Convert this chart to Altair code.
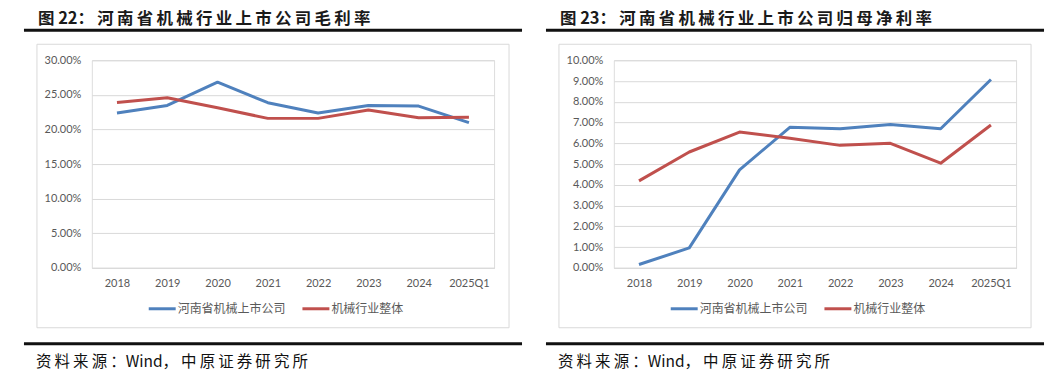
import altair as alt
import pandas as pd

categories = ["2018", "2019", "2020", "2021", "2022", "2023", "2024", "2025Q1"]
series_names = ["河南省机械上市公司", "机械行业整体"]

gross_henan = [22.37, 23.47, 26.83, 23.86, 22.37, 23.47, 23.38, 20.98]
gross_industry = [23.90, 24.58, 23.14, 21.60, 21.60, 22.80, 21.70, 21.75]
net_henan = [0.16, 0.96, 4.72, 6.77, 6.70, 6.91, 6.70, 9.07]
net_industry = [4.19, 5.58, 6.54, 6.24, 5.90, 6.00, 5.04, 6.88]

title_left = "图 22：河南省机械行业上市公司毛利率"
title_right = "图 23：河南省机械行业上市公司归母净利率"
source_text = "资料来源：Wind，中原证券研究所"

left_ticks = [0, 0.05, 0.10, 0.15, 0.20, 0.25, 0.30]
right_ticks = [0, 0.01, 0.02, 0.03, 0.04, 0.05, 0.06, 0.07, 0.08, 0.09, 0.10]

colors = ["#4f81bd", "#c0504d"]

W, H = 403, 208
CJK = "Noto Sans CJK SC"
NUM = "Lato"
GRAY = "#595959"


def is_cjk(ch):
    return ord(ch) > 0x2E80


def spaced(s):
    out = []
    for i, ch in enumerate(s):
        out.append(ch)
        if i < len(s) - 1 and is_cjk(ch) and is_cjk(s[i + 1]):
            out.append("\u2009")
    return "".join(out)


def one():
    return pd.DataFrame({"a": [0]})


def make_df(a, b):
    rows = []
    for name, vals in zip(series_names, [a, b]):
        for c, v in zip(categories, vals):
            rows.append({"cat": c, "series": name, "value": v / 100.0})
    return pd.DataFrame(rows)


def panel(df, ymax, ticks, title, anchor=False):
    lines = alt.Chart(df).mark_line(strokeWidth=3, strokeJoin="round").encode(
        x=alt.X("cat:N", sort=categories,
                scale=alt.Scale(type="point", padding=0.5),
                axis=alt.Axis(title=None, labelAngle=0, ticks=False, domain=True,
                              domainColor="#d9d9d9", labelFont=NUM, labelFontSize=11,
                              labelColor=GRAY, labelPadding=10, grid=False)),
        y=alt.Y("value:Q", scale=alt.Scale(domain=[0, ymax], nice=False),
                axis=alt.Axis(title=None, values=ticks, format=".2%", ticks=False,
                              domain=False, gridColor="#d9d9d9", labelFont=NUM,
                              labelFontSize=11, labelColor=GRAY, labelPadding=11)),
        color=alt.Color("series:N", scale=alt.Scale(domain=series_names, range=colors),
                        legend=None),
        detail="series:N",
    )
    layers = []
    if anchor:
        layers.append(alt.Chart(one()).mark_rect(opacity=0).encode(
            x=alt.value(-83), x2=alt.value(965), y=alt.value(-51), y2=alt.value(307)))
    box = alt.Chart(one()).mark_rect(fillOpacity=0, stroke="#d9d9d9", strokeWidth=1).encode(
        x=alt.value(-55), x2=alt.value(418), y=alt.value(-16), y2=alt.value(268))
    ttl = alt.Chart(one()).mark_text(align="left", baseline="middle", font=CJK,
                                     fontSize=16.5, fontWeight="bold", color="#1a1a1a").encode(
        x=alt.value(-54), y=alt.value(-41), text=alt.value(title))
    top_rule = alt.Chart(one()).mark_rule(strokeWidth=3, color="#111111").encode(
        x=alt.value(-68), x2=alt.value(431), y=alt.value(-30))
    bot_rule = alt.Chart(one()).mark_rule(strokeWidth=3, color="#111111").encode(
        x=alt.value(-68), x2=alt.value(431), y=alt.value(284))
    src = alt.Chart(one()).mark_text(align="left", baseline="middle", font=CJK,
                                     fontSize=15.5, color="#111111").encode(
        x=alt.value(-56), y=alt.value(302), text=alt.value(spaced(source_text)))
    leg = []
    for i, (name, col) in enumerate(zip(series_names, colors)):
        x0 = 57 + i * 154
        leg.append(alt.Chart(one()).mark_rule(strokeWidth=3, color=col).encode(
            x=alt.value(x0), x2=alt.value(x0 + 27), y=alt.value(249)))
        leg.append(alt.Chart(one()).mark_text(align="left", baseline="middle", font=CJK,
                                              fontSize=12, color=GRAY).encode(
            x=alt.value(x0 + 29), y=alt.value(249), text=alt.value(name)))
    layers += [box, ttl, top_rule, bot_rule, src] + leg + [lines]
    return alt.layer(*layers).properties(width=W, height=H)


left = panel(make_df(gross_henan, gross_industry), 0.30, left_ticks,
             spaced(title_left), anchor=True)
right = panel(make_df(net_henan, net_industry), 0.10, right_ticks,
              spaced(title_right))

chart = alt.hconcat(left, right, spacing=120, bounds="flush").properties(
    padding=0
).configure_view(strokeWidth=0).configure(background="white")

chart.save("out.html", embed_options={"renderer": "svg", "actions": False})
